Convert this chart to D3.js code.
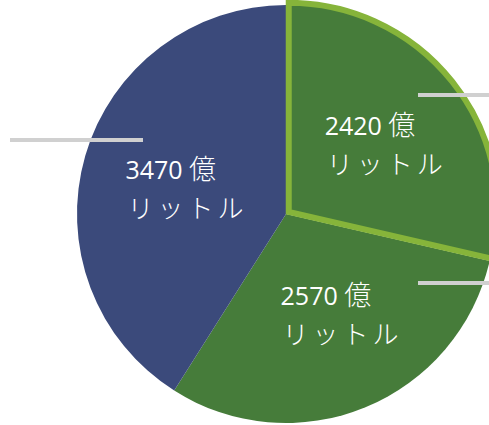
<!DOCTYPE html>
<html>
<head>
<meta charset="utf-8">
<script src="https://cdn.jsdelivr.net/npm/d3@7"></script>
<style>
  html, body { margin: 0; padding: 0; background: #fff; overflow: hidden; }
  svg { display: block; }
</style>
</head>
<body>
<svg id="chart" width="489" height="425"></svg>
<script>
// values in 億リットル, clockwise from 12 o'clock
let values = [2420, 2570, 3470];
let unit_line_1 = "億";
let unit_line_2 = "リットル";
let colors = ["#467c3a", "#467c3a", "#3b4a7b"];

let cx = 286;
let cy = 214;
let radius = 209;

// nudge of each label's first line start from the slice centroid
let label_nudge = [[-49, -9], [-48, -13], [-53, -4]];

let svg = d3.select("#chart");

let pie = d3.pie().sort(null).value(d => d);
let arcs = pie(values);

let arc = d3.arc().innerRadius(0).outerRadius(radius);
let label_arc = d3.arc().innerRadius(112).outerRadius(112);

let g = svg.append("g")
    .attr("transform", "translate(" + cx + "," + cy + ")");

// draw the highlighted slice last so its border sits on top
let order = [1, 2, 0];
g.selectAll("path.slice")
  .data(order.map(i => arcs[i]))
  .enter().append("path")
    .attr("class", "slice")
    .attr("d", arc)
    .attr("fill", d => colors[d.index])
    .attr("transform", d => {
        if (d.index !== 0) return null;
        let a = (d.startAngle + d.endAngle) / 2;
        return "translate(" + (3.5 * Math.sin(a)) + "," + (-3.5 * Math.cos(a)) + ")";
    })
    .attr("stroke", d => d.index === 0 ? "#86b43a" : "none")
    .attr("stroke-width", 6)
    .attr("stroke-linejoin", "miter");

// leader lines
let leaders = [
    { dy: -119, x0: 132, x1: 210 },
    { dy: 69, x0: 132, x1: 210 },
    { dy: -74, x0: -276, x1: -143 }
];
g.selectAll("line.leader")
  .data(leaders)
  .enter().append("line")
    .attr("class", "leader")
    .attr("x1", d => d.x0)
    .attr("x2", d => d.x1)
    .attr("y1", d => d.dy)
    .attr("y2", d => d.dy)
    .attr("stroke", "#d0d0d0")
    .attr("stroke-width", 4);

// labels
let labels = g.selectAll("text.label")
  .data(arcs)
  .enter().append("text")
    .attr("class", "label")
    .attr("fill", "#ffffff")
    .attr("text-anchor", "start")
    .attr("transform", d => {
        let c = label_arc.centroid(d);
        let n = label_nudge[d.index];
        return "translate(" + (c[0] + n[0]) + "," + (c[1] + n[1]) + ")";
    });

labels.append("tspan")
    .attr("x", 0)
    .attr("y", 0)
    .attr("font-family", "'Open Sans', 'Noto Sans', sans-serif")
    .attr("font-size", 25)
    .text(d => d.data + " ");
labels.append("tspan")
    .attr("font-family", "'Noto Sans CJK JP', sans-serif")
    .attr("font-weight", 300)
    .attr("font-size", 27)
    .text(unit_line_1);
labels.append("tspan")
    .attr("x", 2)
    .attr("y", 39)
    .attr("font-family", "'Noto Sans CJK JP', sans-serif")
    .attr("font-weight", 300)
    .attr("font-size", 26)
    .attr("letter-spacing", 4)
    .text(unit_line_2);
</script>
</body>
</html>
